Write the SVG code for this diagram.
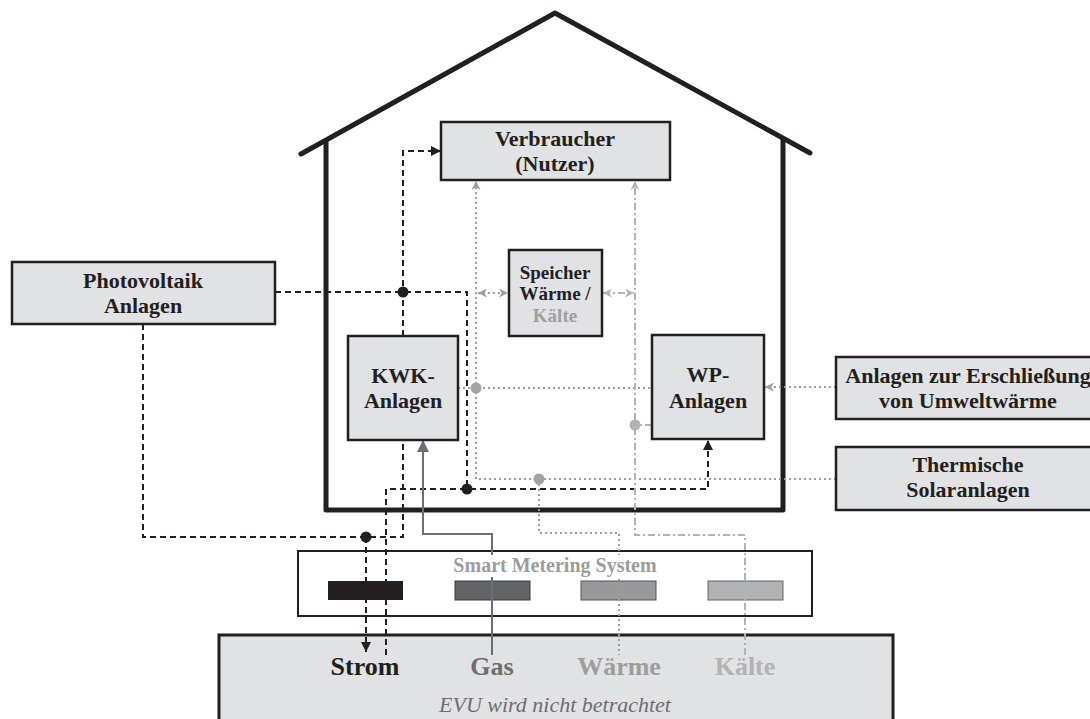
<svg xmlns="http://www.w3.org/2000/svg" width="1090" height="719" viewBox="0 0 1090 719">
<style>
.box{fill:#e1e2e4;stroke:#231f20;stroke-width:2.5}
.t{font-family:"Liberation Serif","Times New Roman",serif;font-weight:bold;text-anchor:middle;fill:#231f20;font-size:22px}
.el{fill:none;stroke:#231f20;stroke-width:2;stroke-dasharray:6 4}
.gas{fill:none;stroke:#6d6e70;stroke-width:2}
.wa{fill:none;stroke:#9d9d9d;stroke-width:2;stroke-dasharray:2 3}
.ka{fill:none;stroke:#b3b3b3;stroke-width:2;stroke-dasharray:7 3 2 3}
.house{fill:none;stroke:#231f20;stroke-width:5;stroke-linecap:round;stroke-linejoin:round}
</style>
<defs>
<marker id="aB" viewBox="0 0 10 10" refX="10" refY="5" markerWidth="10" markerHeight="10" orient="auto" markerUnits="userSpaceOnUse"><path d="M0,0 L10,5 L0,10 z" fill="#231f20"/></marker>
<marker id="aG" viewBox="0 0 10 10" refX="10" refY="5" markerWidth="12" markerHeight="12" orient="auto" markerUnits="userSpaceOnUse"><path d="M0,0 L10,5 L0,10 z" fill="#6d6e70"/></marker>
<marker id="aW" viewBox="0 0 10 10" refX="10" refY="5" markerWidth="9" markerHeight="9" orient="auto-start-reverse" markerUnits="userSpaceOnUse"><path d="M0,0 L10,5 L0,10 L3,5 z" fill="#9d9d9d"/></marker>
<marker id="aK" viewBox="0 0 10 10" refX="10" refY="5" markerWidth="9" markerHeight="9" orient="auto-start-reverse" markerUnits="userSpaceOnUse"><path d="M0,0 L10,5 L0,10 L3,5 z" fill="#b3b3b3"/></marker>
</defs>

<g id="house">
<polyline class="house" points="301,154 555,13 810,153"/>
<polyline class="house" points="326,141 326,510 783,510 783,140"/>
</g>

<g id="smart-metering">
<rect x="298" y="551" width="514" height="65" fill="#ffffff" stroke="#231f20" stroke-width="2"/>
<rect x="328" y="581" width="75" height="19" fill="#231f20"/>
<rect x="455" y="581" width="75" height="19" fill="#636466" stroke="#3a3a3a" stroke-width="1"/>
<rect x="581" y="581" width="75" height="19" fill="#98999b" stroke="#555" stroke-width="1"/>
<rect x="708" y="581" width="75" height="19" fill="#b1b2b4" stroke="#666" stroke-width="1"/>
</g>

<g id="evu">
<rect x="219" y="635" width="674" height="100" fill="#e1e2e4" stroke="#231f20" stroke-width="3"/>
<text class="t" x="365" y="675" font-size="26" style="font-size:26px">Strom</text>
<text class="t" x="492" y="675" style="font-size:26px;fill:#6d6e70">Gas</text>
<text class="t" x="619" y="675" style="font-size:26px;fill:#9d9d9d">Wärme</text>
<text class="t" x="745" y="675" style="font-size:26px;fill:#b3b3b3">Kälte</text>
<text class="t" x="555" y="712" style="font-weight:normal;font-style:italic;fill:#6d6e70">EVU wird nicht betrachtet</text>
</g>

<g id="connectors">
<path class="el" d="M275,292 H467 V489"/>
<path class="el" d="M403,336 V151 H441" marker-end="url(#aB)"/>
<path class="el" d="M143,324 V537 H403 V440"/>
<path class="el" d="M366,537 V652" marker-end="url(#aB)"/>
<path class="el" d="M386,655 V489 H708 V440" marker-end="url(#aB)"/>
<path class="gas" d="M492,655 V534 H423 V440" marker-end="url(#aG)"/>
<path class="wa" d="M836,479 H476 V181" marker-end="url(#aW)"/>
<path class="wa" d="M458,388 H652"/>
<path class="wa" d="M539,479 V533 H619 V655"/>
<path class="wa" d="M836,387 H765" marker-end="url(#aW)"/>
<path class="wa" d="M478,293 H508" marker-start="url(#aW)" marker-end="url(#aW)"/>
<path class="ka" d="M745,655 V535 H635 V181" marker-end="url(#aK)"/>
<path class="ka" d="M652,425 H635"/>
<path class="ka" d="M603,293 H634" marker-start="url(#aK)" marker-end="url(#aK)"/>
<circle cx="403" cy="292" r="5.5" fill="#231f20"/>
<circle cx="467" cy="489" r="5.5" fill="#231f20"/>
<circle cx="366" cy="537" r="5.5" fill="#231f20"/>
<circle cx="476" cy="388" r="5.5" fill="#a3a3a3"/>
<circle cx="539" cy="479" r="5.5" fill="#a3a3a3"/>
<circle cx="635" cy="425" r="5.5" fill="#b3b3b3"/>
</g>

<g id="smart-label">
<rect x="466" y="555" width="178" height="22" fill="#ffffff"/>
<text class="t" x="555" y="572" style="font-size:20px;fill:#9d9d9d">Smart Metering System</text>
</g>

<g id="verbraucher">
<rect class="box" x="441" y="122" width="229" height="58"/>
<text class="t" x="555" y="146">Verbraucher</text>
<text class="t" x="555" y="171">(Nutzer)</text>
</g>

<g id="photovoltaik">
<rect class="box" x="12" y="262" width="263" height="62"/>
<text class="t" x="143" y="288">Photovoltaik</text>
<text class="t" x="143" y="313">Anlagen</text>
</g>

<g id="speicher">
<rect class="box" x="509" y="250" width="93" height="86"/>
<text class="t" x="555" y="279" style="font-size:19px">Speicher</text>
<text class="t" x="555" y="300" style="font-size:19px">Wärme /</text>
<text class="t" x="555" y="322" style="font-size:19px;fill:#a0a0a0">Kälte</text>
</g>

<g id="kwk">
<rect class="box" x="348" y="336" width="110" height="104"/>
<text class="t" x="403" y="383">KWK-</text>
<text class="t" x="403" y="408">Anlagen</text>
</g>

<g id="wp">
<rect class="box" x="652" y="335" width="112" height="104"/>
<text class="t" x="708" y="382">WP-</text>
<text class="t" x="708" y="408">Anlagen</text>
</g>

<g id="umweltwaerme">
<rect class="box" x="836" y="357" width="270" height="62"/>
<text class="t" x="968" y="383">Anlagen zur Erschließung</text>
<text class="t" x="968" y="408">von Umweltwärme</text>
</g>

<g id="solar">
<rect class="box" x="836" y="447" width="270" height="63"/>
<text class="t" x="968" y="472">Thermische</text>
<text class="t" x="968" y="497">Solaranlagen</text>
</g>
</svg>
